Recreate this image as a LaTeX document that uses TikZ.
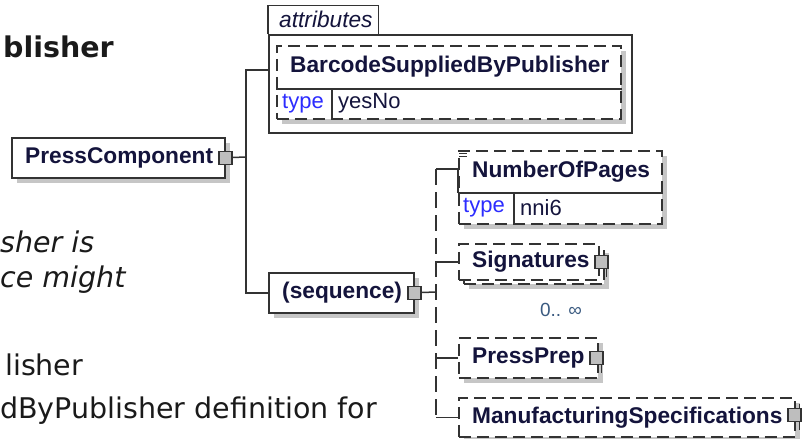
\documentclass[tikz,border=0pt]{standalone}
\usepackage{fontspec}
\setmainfont{Liberation Sans}
\newfontfamily\notefont{DejaVu Sans}
\usetikzlibrary{positioning, shadows}
\definecolor{cline}{HTML}{333333}
\definecolor{cshadow}{HTML}{C6C6C6}
\definecolor{csquare}{HTML}{BEBEBE}
\definecolor{ctype}{HTML}{2C2CFF}
\definecolor{cname}{HTML}{14143C}
\definecolor{coccur}{HTML}{3A5A80}
\definecolor{ctext}{HTML}{1A1A1A}

\begin{document}
\begin{tikzpicture}[x=1pt, y=-1pt,
  frame/.style={draw=cline, line width=1.5pt, fill=white, anchor=north west, inner sep=0pt},
  box/.style={frame, drop shadow={shadow xshift=5pt, shadow yshift=-5pt, fill=cshadow, opacity=1}},
  optframe/.style={frame, dash pattern=on 12pt off 6pt},
  optbox/.style={box, dash pattern=on 12pt off 6pt},
  elname/.style={inner sep=0pt, anchor=west, font=\fontsize{22.7}{26}\selectfont\bfseries, text=cname},
  tkey/.style={inner sep=0pt, anchor=west, font=\fontsize{22}{26}\selectfont, text=ctype},
  tval/.style={inner sep=0pt, anchor=west, font=\fontsize{22}{26}\selectfont, text=cname},
  sq/.style={draw=cline, line width=1.1pt, fill=csquare, minimum size=13pt, inner sep=0pt},
  link/.style={draw=cline, line width=1.5pt},
  note/.style={inner sep=0pt, anchor=base west, font=\notefont\fontsize{28.5}{34}\selectfont, text=ctext}
]
  \useasboundingbox (0,0) rectangle (804,439);

  % Page text behind the diagram
  \node[note, font=\notefont\fontsize{28.5}{34}\selectfont\bfseries] (t1) at (3,57) {blisher};
  \node[note, font=\notefont\fontsize{28.5}{34}\selectfont\itshape] (t2) at (0,252) {sher is};
  \node[note, font=\notefont\fontsize{28.5}{34}\selectfont\itshape] (t3) at (0,287) {ce might};
  \node[note] (t4) at (5,375) {lisher};
  \node[note] (t5) at (0,418) {dByPublisher definition for};

  % PressComponent
  \node[box, minimum width=213pt, minimum height=40pt] (pc) at (11,137) {};
  \node[elname, right=14pt of pc.west] {PressComponent};
  \node[sq] (pcsq) at (pc.east) {};
  \coordinate (pcbus) at (246,157);

  % Attributes group
  \node[frame, minimum width=363pt, minimum height=98pt] (attr) at (268,34) {};
  \node[frame, draw=none, minimum width=109pt, minimum height=27pt, anchor=south west] (tab) at (attr.north west) {};
  \draw[link] (tab.south west) |- (tab.north east) -- (tab.south east);
  \node[inner sep=0pt, anchor=west, font=\fontsize{22.7}{26}\selectfont\itshape, text=cname]
    at ([xshift=11pt]tab.west) {attributes};
  \coordinate (attrin) at ([yshift=-36pt]attr.north west);

  \node[optbox, minimum width=344pt, minimum height=73pt] (bsp) at (276,45) {};
  \draw[link] ([yshift=-44pt]bsp.north west) -- ([yshift=-44pt]bsp.north east);
  \draw[link] ([xshift=56pt, yshift=-44pt]bsp.north west) -- ([xshift=56pt]bsp.south west);
  \node[elname] at ([xshift=14pt, yshift=-22pt]bsp.north west) {BarcodeSuppliedByPublisher};
  \node[tkey] at ([xshift=6pt, yshift=-58.5pt]bsp.north west) {type};
  \node[tval] at ([xshift=62pt, yshift=-58.5pt]bsp.north west) {yesNo};

  % Sequence
  \node[box, minimum width=145pt, minimum height=40pt] (seq) at (268,272) {};
  \node[elname, right=14pt of seq.west] {(sequence)};
  \node[sq] (seqsq) at (seq.east) {};
  \coordinate (seqbus) at (436,292);

  % NumberOfPages
  \node[optbox, minimum width=203pt, minimum height=73pt] (nop) at (458,150) {};
  \coordinate (nopin) at ([yshift=-19pt]nop.north west);
  \draw[link] (nopin) -- ([yshift=-43pt]nop.north west);
  \draw[link] ([yshift=-43pt]nop.north west) -- ([yshift=-43pt]nop.north east);
  \draw[link] ([xshift=56pt, yshift=-43pt]nop.north west) -- ([xshift=56pt]nop.south west);
  \draw[cline, line width=0.9pt] ([xshift=1pt, yshift=-1pt]nop.north west) -- ++(8,0);
  \draw[cline, line width=0.9pt] ([xshift=1pt, yshift=-3.5pt]nop.north west) -- ++(8,0);
  \draw[cline, line width=0.9pt] ([xshift=1pt, yshift=-6pt]nop.north west) -- ++(8,0);
  \node[elname] at ([xshift=14pt, yshift=-22pt]nop.north west) {NumberOfPages};
  \node[tkey] at ([xshift=5pt, yshift=-58pt]nop.north west) {type};
  \node[tval] at ([xshift=62pt, yshift=-58pt]nop.north west) {nni6};

  % Signatures (repeated)
  \node[optbox, minimum width=140pt, minimum height=36pt] (sigback) at (463,247) {};
  \node[optframe, minimum width=140pt, minimum height=36pt] (sig) at (458,243) {};
  \node[elname, right=14pt of sig.west] {Signatures};
  \node[sq] (sigsq) at ([xshift=2pt]sig.east) {};
  \draw[link, line width=1.1pt] ([xshift=-2pt]sigsq.south east) -- ++(0,8);
  \node[inner sep=0pt, font=\fontsize{19}{22}\selectfont, text=coccur] (occ) at (561,310) {0.. ∞};

  % PressPrep
  \node[optbox, minimum width=139pt, minimum height=40pt] (pp) at (458,337) {};
  \node[elname, right=14pt of pp.west] {PressPrep};
  \node[sq] (ppsq) at ([xshift=-2pt]pp.east) {};
  \draw[link, line width=1.1pt] ([xshift=-2pt]ppsq.south east) -- ++(0,8);

  % ManufacturingSpecifications
  \node[optbox, minimum width=336pt, minimum height=39pt] (ms) at (458,397) {};
  \node[elname, right=14pt of ms.west] {ManufacturingSpecifications};
  \node[sq] (mssq) at ([xshift=-1pt, yshift=2pt]ms.east) {};
  \draw[link, line width=1.1pt] ([xshift=-2pt]mssq.north east) -- ++(0,-4);
  \draw[link, line width=1.1pt] ([xshift=-2pt]mssq.south east) -- ++(0,8);

  % Connectors
  \draw[link] (pcsq) -- (pcbus);
  \draw[link] (attrin) -| (pcbus) |- (seq.west);
  \draw[link] (seqsq) -- (seqbus);
  \draw[link, dash pattern=on 16pt off 7pt] (seqbus |- nopin) -- (seqbus |- ms.west);
  \draw[link] (seqbus |- nopin) -- (nopin);
  \draw[link] (seqbus |- sig.west) -- (sig.west);
  \draw[link] (seqbus |- pp.west) -- (pp.west);
  \draw[link] (seqbus |- ms.west) -- (ms.west);

\end{tikzpicture}
\end{document}
